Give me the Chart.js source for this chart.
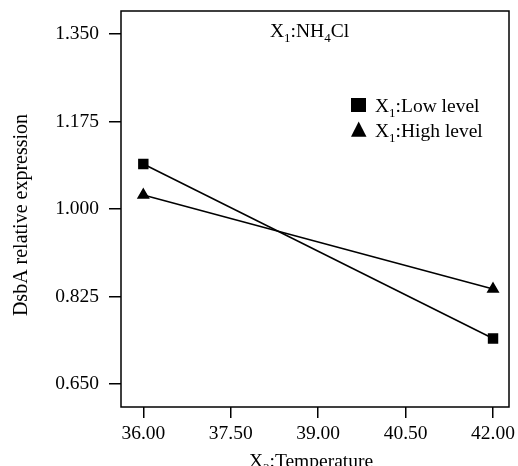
<!DOCTYPE html>
<html>
<head>
<meta charset="utf-8">
<script src="https://cdn.jsdelivr.net/npm/chart.js@4/dist/chart.umd.min.js"></script>
<style>
  html, body { margin: 0; padding: 0; background: #fff; }
</style>
</head>
<body>
<canvas id="interactionChart" width="518" height="466"></canvas>
<script>
// Data
const temperatures = [36, 42];
const lowLevel = [1.090, 0.741];
const highLevel = [1.028, 0.840];
const xTicks = [36.00, 37.50, 39.00, 40.50, 42.00];
const yTicks = [0.650, 0.825, 1.000, 1.175, 1.350];
const seriesNames = ['X_1:Low level', 'X_1:High level'];
const plotTitle = 'X_1:NH_4Cl';
const xTitle = 'X_3:Temperature';
const yTitle = 'DsbA relative expression';

const FONT = '"Liberation Serif", "Times New Roman", serif';

// draw text where "_c" means c as subscript
function drawRich(ctx, str, x, y, size) {
  const parts = str.split(/_(\w)/);
  let cx = x;
  parts.forEach((p, i) => {
    if (!p) return;
    const sub = i % 2 === 1;
    ctx.font = (sub ? Math.round(size * 0.65) : size) + 'px ' + FONT;
    ctx.fillText(p, cx, sub ? y + size * 0.28 : y);
    cx += ctx.measureText(p).width;
  });
}
function richWidth(ctx, str, size) {
  const parts = str.split(/_(\w)/);
  let w = 0;
  parts.forEach((p, i) => {
    if (!p) return;
    ctx.font = (i % 2 ? Math.round(size * 0.65) : size) + 'px ' + FONT;
    w += ctx.measureText(p).width;
  });
  return w;
}

// frame, title, legend and axis titles (with subscripts)
const decorations = {
  id: 'decorations',
  afterDraw(chart) {
    const ctx = chart.ctx;
    const a = chart.chartArea;
    ctx.save();
    ctx.strokeStyle = '#000';
    ctx.lineWidth = 1.5;
    ctx.strokeRect(a.left, a.top, a.right - a.left, a.bottom - a.top);

    ctx.fillStyle = '#000';
    ctx.textBaseline = 'alphabetic';
    ctx.textAlign = 'left';
    drawRich(ctx, plotTitle, 270, 37, 19.5);

    // legend
    const rows = [112, 137];
    // square
    ctx.fillRect(351, 98, 15, 14);
    // triangle
    ctx.beginPath();
    ctx.moveTo(358.7, 121.5);
    ctx.lineTo(366.5, 136.7);
    ctx.lineTo(351, 136.7);
    ctx.closePath();
    ctx.fill();
    seriesNames.forEach((name, i) => drawRich(ctx, name, 375, rows[i], 19.5));

    // x title
    const w = richWidth(ctx, xTitle, 19.5);
    drawRich(ctx, xTitle, 311 - w / 2, 467, 19.5);

    // y title
    ctx.translate(27, 215);
    ctx.rotate(-Math.PI / 2);
    ctx.font = '20px ' + FONT;
    ctx.textAlign = 'center';
    ctx.fillText(yTitle, 0, 0);
    ctx.restore();
  }
};

new Chart(document.getElementById('interactionChart'), {
  type: 'line',
  data: {
    datasets: [
      {
        label: seriesNames[0],
        data: temperatures.map((t, i) => ({ x: t, y: lowLevel[i] })),
        borderColor: '#000',
        backgroundColor: '#000',
        borderWidth: 1.5,
        pointStyle: 'rect',
        pointRadius: 6.3,
        tension: 0
      },
      {
        label: seriesNames[1],
        data: temperatures.map((t, i) => ({ x: t, y: highLevel[i] })),
        borderColor: '#000',
        backgroundColor: '#000',
        borderWidth: 1.5,
        pointStyle: 'triangle',
        pointRadius: 6,
        tension: 0
      }
    ]
  },
  options: {
    responsive: false,
    animation: false,
    layout: { padding: { top: 11, right: 9, left: 0, bottom: 0 } },
    plugins: {
      legend: { display: false },
      tooltip: { enabled: false }
    },
    scales: {
      x: {
        type: 'linear',
        min: 35.617,
        max: 42.274,
        afterBuildTicks: s => { s.ticks = xTicks.map(v => ({ value: v })); },
        afterFit: s => { s.height = 59; s.paddingLeft = 0; s.paddingRight = 0; },
        border: { display: false },
        grid: { drawOnChartArea: false, drawTicks: true, tickLength: 11, color: '#000', lineWidth: 1.5 },
        ticks: {
          color: '#000',
          padding: 4,
          maxRotation: 0,
          font: { family: FONT, size: 19.5 },
          callback: v => v.toFixed(2)
        }
      },
      y: {
        min: 0.604,
        max: 1.396,
        afterBuildTicks: s => { s.ticks = yTicks.map(v => ({ value: v })); },
        afterFit: s => { s.width = 121; s.paddingTop = 0; s.paddingBottom = 0; },
        border: { display: false },
        grid: { drawOnChartArea: false, drawTicks: true, tickLength: 12, color: '#000', lineWidth: 1.5 },
        ticks: {
          color: '#000',
          padding: 10,
          font: { family: FONT, size: 19.5 },
          callback: v => v.toFixed(3)
        }
      }
    }
  },
  plugins: [decorations]
});
</script>
</body>
</html>
